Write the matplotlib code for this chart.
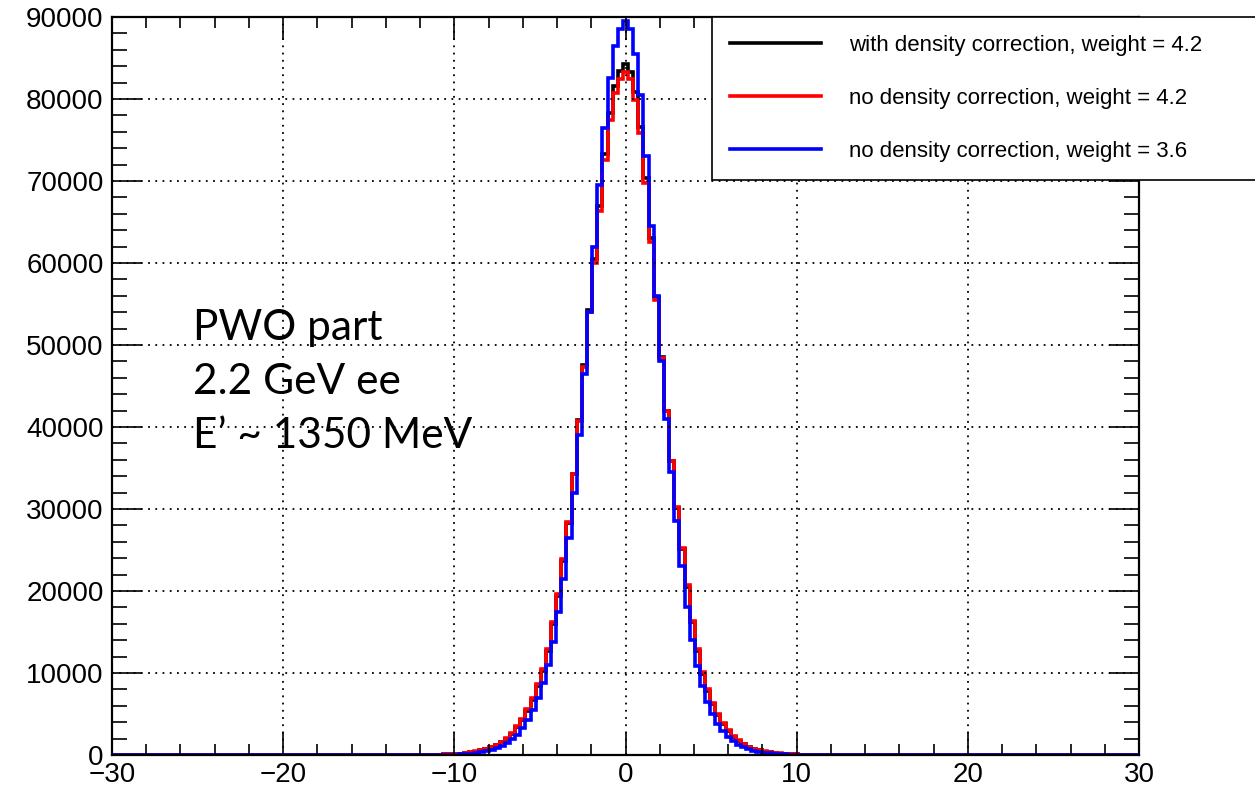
import numpy as np
import matplotlib
matplotlib.use("Agg")
import matplotlib.pyplot as plt

plt.rcParams['font.family'] = ['Liberation Sans', 'DejaVu Sans']

# bin width 0.3, bins centred on multiples of 0.3; only -12..12 is non-empty
bin_width = 0.3
x_lo, x_hi = -12.0, 12.0

# counts per bin (x = -12.0 ... 12.0)
with_corr_42 = [
    11, 16, 24, 33, 48, 67, 95, 125, 170, 230,
    310, 410, 550, 720, 930, 1200, 1550, 2000, 2600, 3400,
    4300, 5400, 6700, 8400, 10300, 12700, 16000, 19400, 23700, 28300,
    34300, 40800, 47500, 54300, 60500, 67000, 73300, 78300, 81600, 83400,
    84300,
    83300, 80800, 76600, 70400, 63000, 55800, 48500, 41900, 35800, 30100,
    25100, 20500, 16200, 12700, 9900, 7800, 6200, 4900, 3800, 2900,
    2200, 1700, 1300, 970, 740, 560, 420, 320, 240, 180,
    135, 97, 72, 53, 38, 27, 19, 13, 9, 6,
]
no_corr_42 = [
    12, 17, 25, 35, 50, 70, 100, 130, 180, 240,
    320, 430, 570, 750, 970, 1250, 1600, 2100, 2700, 3500,
    4400, 5600, 6900, 8600, 10500, 12900, 16200, 19600, 23900, 28400,
    34300, 40700, 47300, 54000, 60000, 66400, 72600, 77500, 80700, 82400,
    83300,
    82400, 79900, 75800, 69800, 62600, 55500, 48400, 41900, 35900, 30300,
    25300, 20700, 16400, 12900, 10100, 8000, 6400, 5000, 3900, 3000,
    2300, 1800, 1350, 1000, 770, 580, 440, 330, 250, 190,
    140, 100, 75, 55, 40, 28, 20, 14, 10, 7,
]
no_corr_36 = [
    3, 5, 8, 12, 18, 28, 40, 60, 85, 120,
    170, 240, 330, 450, 600, 800, 1100, 1450, 1900, 2500,
    3300, 4300, 5500, 7000, 8800, 11000, 13800, 17500, 21500, 26500,
    32000, 39000, 46500, 54000, 62000, 69500, 76500, 82500, 86500, 88500,
    89500,
    88500, 85500, 80500, 73000, 64500, 56000, 48000, 41000, 34500, 28500,
    23000, 18000, 14000, 10800, 8400, 6500, 5000, 3800, 2900, 2200,
    1650, 1250, 950, 700, 520, 380, 280, 200, 150, 110,
    80, 55, 40, 28, 19, 13, 9, 6, 4, 2,
]

labels = ["with density correction, weight = 4.2",
          "no density correction, weight = 4.2",
          "no density correction, weight = 3.6"]
colors = ["black", "red", "blue"]

# full histogram range -30..30 with empty bins outside the peak region
n_side = int(round((30 - x_hi) / bin_width))
edges = np.arange(-30.15, 30.15 + 1e-6, bin_width)


def full(counts):
    return np.concatenate([np.zeros(n_side), counts, np.zeros(n_side)])


fig = plt.figure(figsize=(12.55, 7.91), dpi=100)
ax = fig.add_axes([112 / 1255, 1 - 755 / 791, (1139 - 112) / 1255, (755 - 17) / 791])

lw = 2.6
for counts, c, lab in zip([with_corr_42, no_corr_42, no_corr_36], colors, labels):
    ax.stairs(full(counts), edges, color=c, linewidth=lw, label=lab)

ax.set_xlim(-30, 30)
ax.set_ylim(0, 90000)
ax.set_xticks(np.arange(-30, 31, 10))
ax.set_xticks(np.arange(-30, 31, 2), minor=True)
ax.set_yticks(np.arange(0, 90001, 10000))
ax.set_yticks(np.arange(0, 90001, 2000), minor=True)
ax.set_yticklabels([str(v) for v in range(0, 90001, 10000)])

ax.grid(True, which='major', color='black', linestyle=(0, (1, 3)), linewidth=1.3)
ax.tick_params(which='both', direction='in', top=True, right=True, labelsize=20, width=1.2)
ax.tick_params(axis='y', which='major', length=21.5, pad=6)
ax.tick_params(axis='y', which='minor', length=10.8)
ax.tick_params(axis='x', which='major', length=16.5, pad=5)
ax.tick_params(axis='x', which='minor', length=7.9)
for s in ax.spines.values():
    s.set_linewidth(1.6)

# annotation in the plot
fig.text(193 / 1255, 1 - 448 / 791, "PWO part\n2.2 GeV ee\nE\u2019 ~ 1350 MeV",
         fontsize=30.5, family=['Lato', 'DejaVu Sans'], va='baseline', ha='left',
         linespacing=1.52)

# legend box (sticks out past the right edge of the frame)
lines = [plt.Line2D([], [], color=c, linewidth=lw) for c in colors]
leg = ax.legend(lines, labels, loc='upper left',
                bbox_to_anchor=(600 / 1027, 0.0, 560 / 1027, 1.0),
                mode='expand', borderaxespad=0, fontsize=16,
                handlelength=4.1, handletextpad=1.26, labelspacing=1.44,
                borderpad=0.8, fancybox=False, framealpha=1, edgecolor='black')
leg.get_frame().set_linewidth(1.2)

fig.savefig("out.png", dpi=100)
